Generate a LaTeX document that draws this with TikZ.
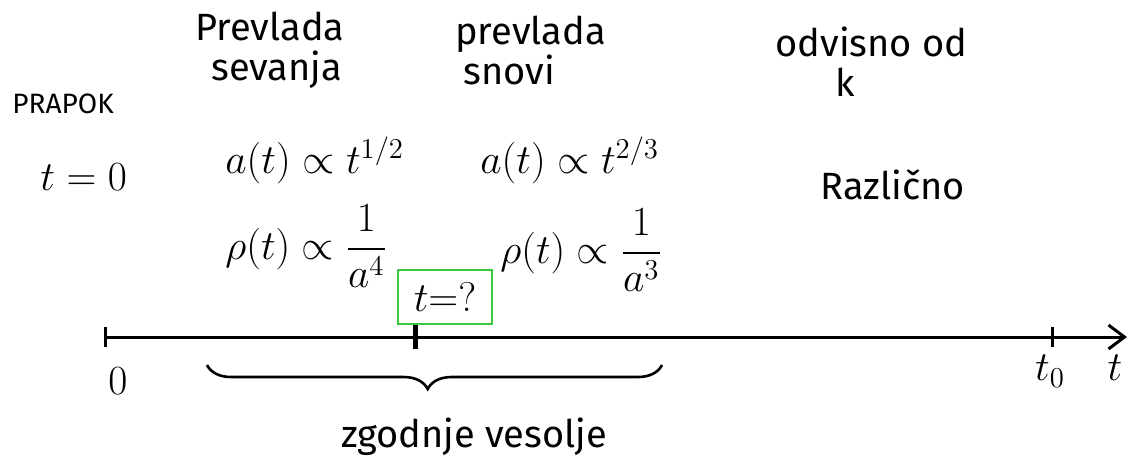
\documentclass[tikz,border=0pt]{standalone}
\usepackage{fontspec}
\setmainfont{Fira Sans}
\usepackage{amsmath}
\usetikzlibrary{arrows.meta,decorations.pathreplacing}
\definecolor{boxgreen}{RGB}{60,200,60}
\begin{document}
\begin{tikzpicture}[x=0.5pt,y=-0.5pt,
  lbl/.style={inner sep=0pt,font=\fontsize{19}{22}\selectfont,align=left},
  eq/.style={inner sep=0pt,font=\fontsize{20}{24}\selectfont},
  axisline/.style={line width=1.5pt},
  tick/.style={line width=1.5pt}]
\useasboundingbox (0,0) rectangle (1135,463);
% headings
\node[lbl,anchor=north west] (rad) at (195,12) {Prevlada\\[-2pt]\hspace*{8pt}sevanja};
\node[lbl,anchor=north west] (mat) at (455,16) {prevlada\\[-2pt]\hspace*{4pt}snovi};
\node[lbl,anchor=north west] (dep) at (775,26) {odvisno od\\[-2pt]\hspace*{30pt}k};
\node[lbl,anchor=west,font=\fontsize{14}{16}\selectfont] (bang) at (12,104) {PRAPOK};
% equations
\node[eq,anchor=west] (t0eq) at (40,177) {$t=0$};
\node[eq,anchor=west] (arad) at (225,160) {$a(t)\propto t^{1/2}$};
\node[eq,anchor=west] (amat) at (480,160) {$a(t)\propto t^{2/3}$};
\node[lbl,anchor=west] (diff) at (820,185) {Različno};
\node[eq,anchor=west] (rrad) at (225,246) {$\rho(t)\propto \dfrac{1}{a^4}$};
\node[eq,anchor=west] (rmat) at (500,250) {$\rho(t)\propto \dfrac{1}{a^3}$};
% question box
\node[eq,draw=boxgreen,line width=1.2pt,minimum width=47pt,minimum height=27pt,font=\fontsize{21}{25}\selectfont] (q) at (445,297) {$t{=}?$};
% axis
\coordinate (start) at (105,337);
\coordinate (end) at (1127,337);
\coordinate (tq) at (415,337);
\coordinate (tnow) at (1052,337);
\draw[axisline,-{Straight Barb[length=8pt,width=12pt,line width=1.5pt]}] (start) -- (end);
\draw[tick] ([yshift=5pt]start) -- ([yshift=-5pt]start);
\draw[line width=2.5pt] ([yshift=6pt]tq) -- ([yshift=-6pt]tq);
\draw[tick] ([yshift=5pt]tnow) -- ([yshift=-5pt]tnow);
\node[eq,anchor=north] (zero) at (118,367) {$0$};
\node[eq,anchor=north] (tnowlbl) at (1050,355) {$t_0$};
\node[eq,anchor=north] (tlbl) at (1115,355) {$t$};
% brace
\coordinate (bl) at (207,365);
\coordinate (br) at (662,365);
\draw[line width=1.3pt,decorate,decoration={brace,mirror,amplitude=12pt,aspect=0.485}] (bl) -- (br);
\node[lbl,anchor=center] (early) at (474,437) {zgodnje vesolje};
\end{tikzpicture}
\end{document}
